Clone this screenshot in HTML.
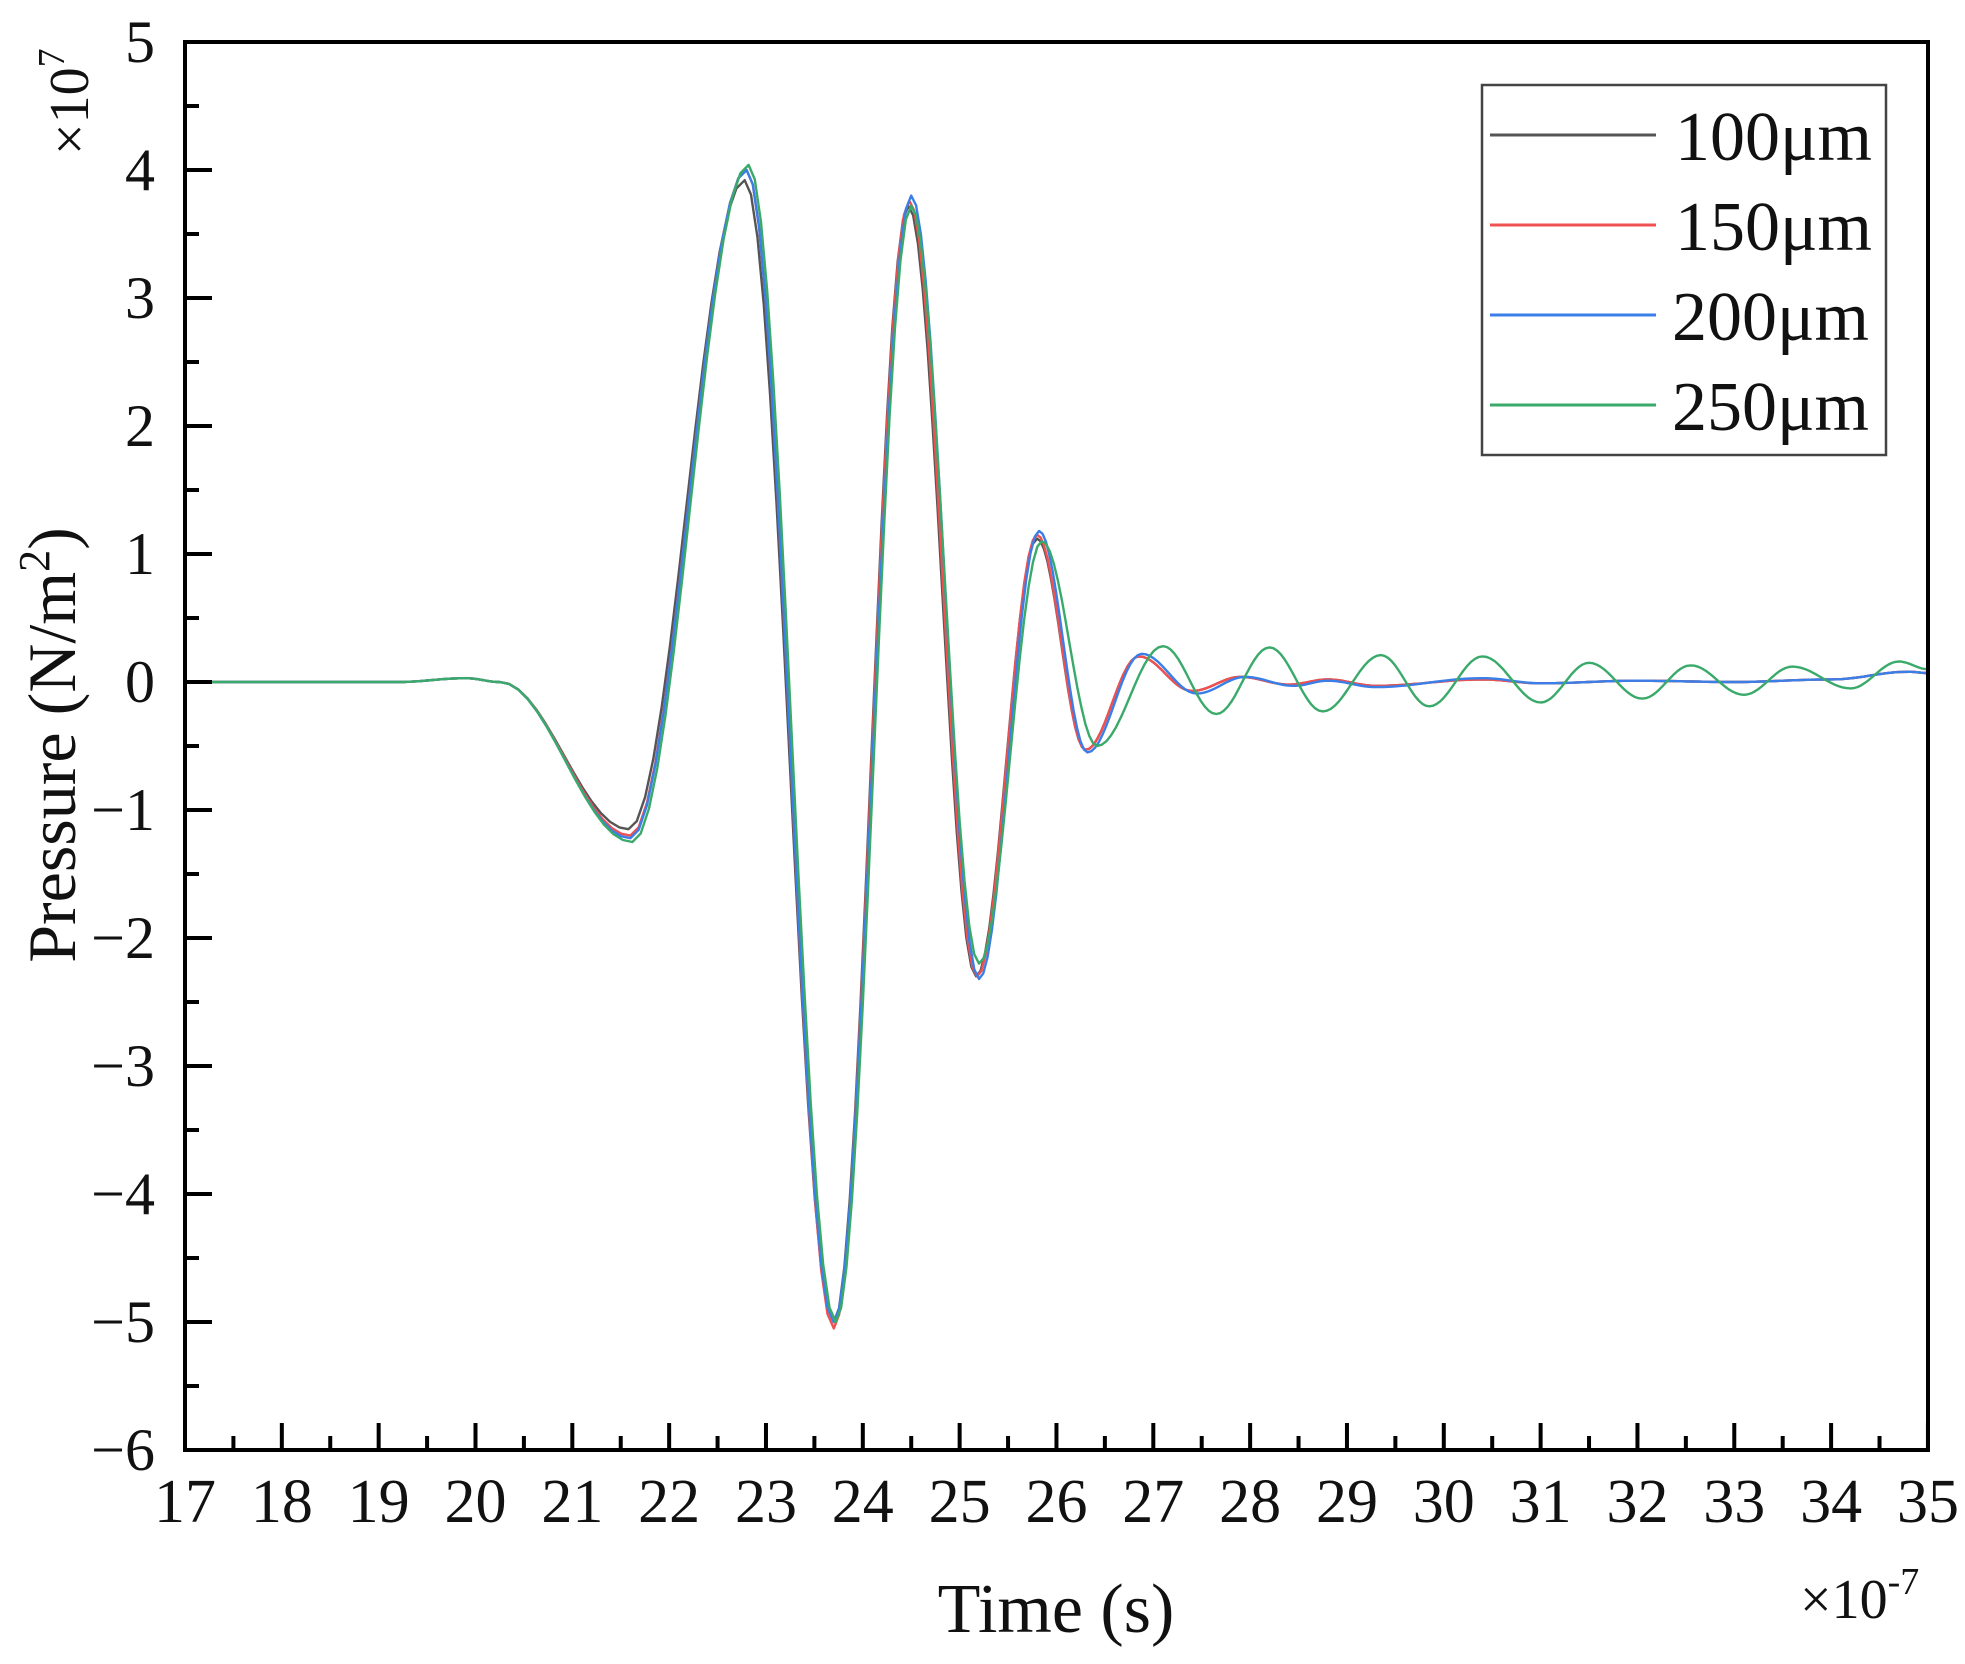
<!DOCTYPE html>
<html><head><meta charset="utf-8"><style>
html,body{margin:0;padding:0;background:#fff;}
svg{display:block;font-family:"Liberation Serif",serif;}
</style></head><body>
<svg id="s" width="1965" height="1664" viewBox="0 0 1965 1664" xmlns="http://www.w3.org/2000/svg">
<g id="series" fill="none" stroke-width="2.4" stroke-linejoin="round"></g>
<rect x="185" y="42" width="1743" height="1408" fill="none" stroke="#000" stroke-width="4"/>
<g id="ticks" stroke="#000" stroke-width="4"></g>
<g id="labels" font-size="60" fill="#111"></g>
<text x="1056" y="1632" font-size="70" text-anchor="middle" fill="#111">Time (s)</text>
<text x="1800" y="1618" font-size="56" fill="#111">×10<tspan font-size="38" dy="-24">-7</tspan></text>
<text transform="translate(75,745) rotate(-90)" font-size="68" text-anchor="middle" fill="#111">Pressure (N/m<tspan font-size="44" dy="-26">2</tspan><tspan dy="26">)</tspan></text>
<text transform="translate(88,155) rotate(-90)" font-size="56" fill="#111">×10<tspan font-size="38" dy="-24">7</tspan></text>
<rect x="1482" y="85" width="404" height="370" fill="#fff" stroke="#444" stroke-width="2.5"/>
<g stroke-width="3">
<line x1="1490" y1="135" x2="1656" y2="135" stroke="#555"/>
<line x1="1490" y1="225" x2="1656" y2="225" stroke="#f05050"/>
<line x1="1490" y1="315" x2="1656" y2="315" stroke="#3a7ee8"/>
<line x1="1490" y1="405" x2="1656" y2="405" stroke="#3aaa6a"/>
</g>
<g font-size="70" fill="#111">
<text x="1675" y="160">100μm</text>
<text x="1675" y="250">150μm</text>
<text x="1672" y="340">200μm</text>
<text x="1672" y="430">250μm</text>
</g>
</svg>
<script>
const X=t=>185+(t-17)*96.83, Y=p=>682-p*128;
const ns="http://www.w3.org/2000/svg";
const tk=document.getElementById('ticks'), lb=document.getElementById('labels');
function el(tag,a,parent,txt){const e=document.createElementNS(ns,tag);for(const k in a)e.setAttribute(k,a[k]);if(txt!==undefined)e.textContent=txt;parent.appendChild(e);return e;}
for(let t=17;t<=35;t++){const x=X(t);el('line',{x1:x,y1:1450,x2:x,y2:1423},tk);
 if(t<35){const xm=X(t+0.5);el('line',{x1:xm,y1:1450,x2:xm,y2:1436},tk);}
 el('text',{x:x,y:1522,'text-anchor':'middle','font-size':62},lb,String(t));}
for(let p=-6;p<=5;p++){const y=Y(p);el('line',{x1:185,y1:y,x2:212,y2:y},tk);
 if(p<5){const ym=Y(p+0.5);el('line',{x1:185,y1:ym,x2:199,y2:ym},tk);}
 el('text',{x:155,y:y+20,'text-anchor':'end'},lb,(p<0?'−':'')+Math.abs(p));}
const S={
'#555':[[17,0],[19.2,0],[19.9,0.03],[20.25,0],[21.58,-1.15],[22.78,3.92],[23.7,-5.0],[24.47,3.72],[25.17,-2.3],[25.8,1.12],[26.3,-0.53],[26.85,0.2],[27.4,-0.07],[27.9,0.04],[28.4,-0.02],[28.8,0.02],[29.3,-0.03],[30.4,0.02],[31,-0.01],[32,0.01],[33,0],[34,0.02],[34.8,0.08],[35,0.07]],
'#f05050':[[17,0],[19.2,0],[19.9,0.03],[20.25,0],[21.6,-1.2],[22.8,4.0],[23.7,-5.05],[24.48,3.76],[25.18,-2.3],[25.8,1.15],[26.3,-0.53],[26.85,0.2],[27.4,-0.07],[27.9,0.04],[28.4,-0.02],[28.8,0.02],[29.3,-0.03],[30.4,0.02],[31,-0.01],[32,0.01],[33,0],[34,0.02],[34.8,0.08],[35,0.07]],
'#3a7ee8':[[17,0],[19.2,0],[19.9,0.03],[20.25,0],[21.6,-1.22],[22.8,4.0],[23.7,-5.0],[24.5,3.8],[25.2,-2.32],[25.82,1.18],[26.32,-0.55],[26.88,0.22],[27.45,-0.09],[27.95,0.04],[28.45,-0.03],[28.8,0.01],[29.3,-0.04],[30.4,0.03],[31,-0.01],[32,0.01],[33,0],[34,0.02],[34.8,0.08],[35,0.07]],
'#3aaa6a':[[17,0],[19.2,0],[19.9,0.03],[20.25,0],[21.62,-1.25],[22.82,4.04],[23.72,-5.0],[24.5,3.72],[25.2,-2.2],[25.85,1.1],[26.42,-0.5],[27.1,0.28],[27.65,-0.25],[28.2,0.27],[28.75,-0.23],[29.35,0.21],[29.85,-0.19],[30.4,0.2],[31.0,-0.16],[31.5,0.15],[32.05,-0.13],[32.55,0.13],[33.1,-0.1],[33.6,0.12],[34.2,-0.05],[34.7,0.16],[35,0.1]]
};
const g=document.getElementById('series');
for(const c of ['#555','#f05050','#3a7ee8','#3aaa6a']){const pts=S[c];let d='';
 for(let i=0;i<pts.length-1;i++){const [t0,p0]=pts[i],[t1,p1]=pts[i+1];const n=14;
  for(let k=(i?1:0);k<=n;k++){const u=k/n,t=t0+(t1-t0)*u,p=p0+(p1-p0)*(1-Math.cos(Math.PI*u))/2;
   d+=(d?'L':'M')+X(t).toFixed(1)+','+Y(p).toFixed(1);}}
 el('path',{d:d,stroke:c},g);}
</script>
</body></html>
